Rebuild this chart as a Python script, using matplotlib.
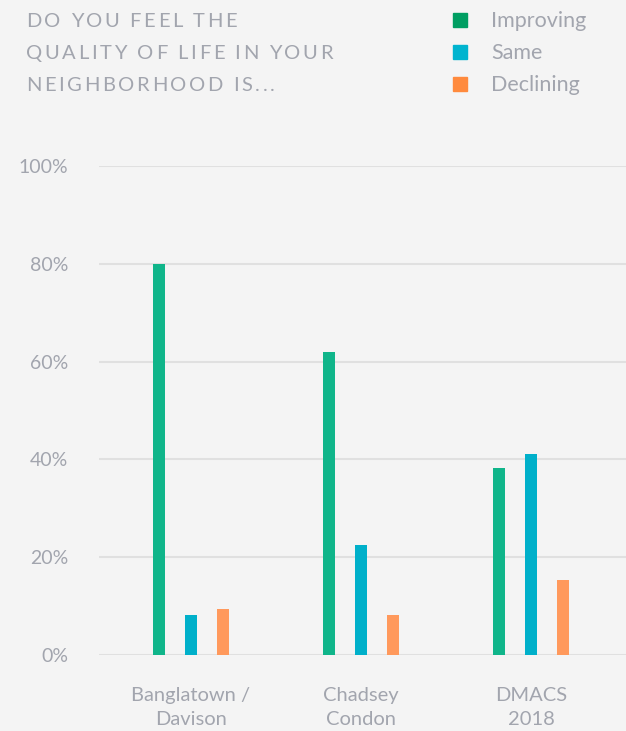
import numpy as np
import matplotlib
matplotlib.use('Agg')
import matplotlib.pyplot as plt
from matplotlib.font_manager import FontProperties

neighborhoods = ['Banglatown /\nDavison', 'Chadsey\nCondon', 'DMACS\n2018']
responses = ['Improving', 'Same', 'Declining']
improving = [80.0, 62.0, 38.2]
same = [8.2, 22.5, 41.1]
declining = [9.4, 8.2, 15.3]
yticks = [0, 20, 40, 60, 80, 100]
title_lines = ['DO YOU FEEL THE', 'QUALITY OF LIFE IN YOUR', 'NEIGHBORHOOD IS...']

bar_colors = ['#10b58a', '#00b0ca', '#ff995c']
key_colors = ['#009e62', '#00b4cf', '#ff8a3d']
grey = '#a2a5ae'
bg = '#f4f4f4'

plt.rcParams['font.family'] = ['Lato', 'DejaVu Sans']
W, H = 626, 731
fig = plt.figure(figsize=(W / 100, H / 100), dpi=100, facecolor=bg)
renderer = fig.canvas.get_renderer()

# plot area in pixels: x 99..626, y 166..655
ax = fig.add_axes([99 / W, (H - 655) / H, (W - 99) / W, 489 / H])
ax.set_facecolor(bg)
x = np.arange(len(neighborhoods))
off, bw = 0.188, 0.07
for i, vals in enumerate([improving, same, declining]):
    ax.bar(x + (i - 1) * off, vals, bw, color=bar_colors[i], zorder=3)
ax.set_xlim(-0.541, 2.559)
ax.set_ylim(0, 100)
ax.set_yticks(yticks)
ax.set_yticklabels([f'{v}%' for v in yticks])
ax.set_xticks(x)
ax.set_xticklabels(neighborhoods, linespacing=1.5)
ax.yaxis.grid(True, color='#e0e0e0', lw=1.5)
ax.set_axisbelow(True)
for s in ax.spines.values():
    s.set_visible(False)
ax.tick_params(axis='y', length=0, pad=22, labelsize=14, labelcolor=grey)
ax.tick_params(axis='x', length=0, pad=23, labelsize=14.5, labelcolor=grey)


def text_w(s, fp):
    if s == ' ':
        return (renderer.get_text_width_height_descent('x x', fp, False)[0]
                - renderer.get_text_width_height_descent('xx', fp, False)[0])
    return renderer.get_text_width_height_descent(s, fp, False)[0]


def tracked(s, x0, y0, fp, track, color):
    xp = x0
    for c in s:
        if c != ' ':
            fig.text(xp / W, 1 - y0 / H, c, fontproperties=fp, color=color,
                     ha='left', va='baseline')
        xp += text_w(c, fp) + track


fp_title = FontProperties(family='Lato', size=14.5)
for k, line in enumerate(title_lines):
    tracked(line, 26, 27 + 32 * k, fp_title, 2.6, grey)

for k, lab in enumerate(responses):
    yb = 27 + 32 * k
    fig.patches.append(plt.Rectangle((453 / W, 1 - yb / H), 14 / W, 14 / H,
                                     transform=fig.transFigure,
                                     color=key_colors[k]))
    fig.text(491 / W, 1 - yb / H, lab, fontsize=15.5, color=grey,
             ha='left', va='baseline')

fig.savefig('out.png', dpi=100, facecolor=bg)
